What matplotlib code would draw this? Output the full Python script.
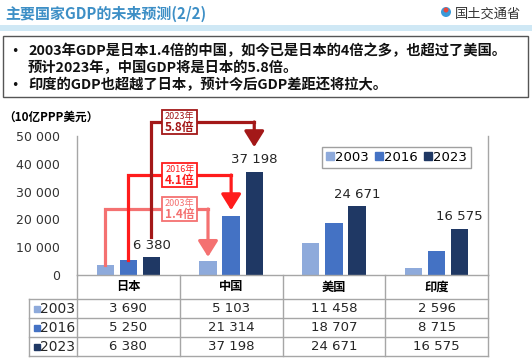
import numpy as np
import matplotlib
matplotlib.use('Agg')
import matplotlib.pyplot as plt
from matplotlib.patches import Rectangle, Ellipse
from matplotlib.lines import Line2D

plt.rcParams['font.family'] = ['DejaVu Sans', 'Noto Sans CJK SC']
CJK = ['Noto Sans CJK SC', 'DejaVu Sans']

title = '主要国家GDP的未来预测(2/2)'
ministry = '国土交通省'
notes = ['2003年GDP是日本1.4倍的中国，如今已是日本的4倍之多，也超过了美国。',
         '预计2023年，中国GDP将是日本的5.8倍。',
         '印度的GDP也超越了日本，预计今后GDP差距还将拉大。']
unit = '（10亿PPP美元）'
countries = ['日本', '中国', '美国', '印度']
years = ['2003', '2016', '2023']
gdp_2003 = [3690, 5103, 11458, 2596]
gdp_2016 = [5250, 21314, 18707, 8715]
gdp_2023 = [6380, 37198, 24671, 16575]
series = [gdp_2003, gdp_2016, gdp_2023]

colors = ['#8eaadb', '#4472c4', '#1f3864']
arrow_colors = ['#f47171', '#ff1c1c', '#a31818']
grid_col = '#a6a6a6'

W, H = 532, 360


def fx(px):
    return px / W


def fy(py):
    return 1 - py / H


def fmt(v):
    return f'{v:,}'.replace(',', ' ')


fig = plt.figure(figsize=(W / 100, H / 100), dpi=100)

# header
fig.text(fx(5), fy(14), title, family=CJK, fontsize=10.8, fontweight='bold',
         color='#3d8fc6', va='center')
fig.patches.append(Rectangle((0, fy(31)), 1, fy(25) - fy(31), transform=fig.transFigure,
                             color='#cfe8f5', lw=0))
fig.patches.append(Ellipse((fx(446), fy(12)), 10 / W, 10 / H, transform=fig.transFigure,
                           color='#3a9ad9', lw=0))
fig.patches.append(Ellipse((fx(446), fy(10)), 5 / W, 5 / H, transform=fig.transFigure,
                           color='#e8483c', lw=0))
fig.text(fx(455), fy(14), ministry, family=CJK, fontsize=9.5, color='#333333', va='center')

# note box
fig.patches.append(Rectangle((fx(3), fy(97)), fx(528) - fx(3), fy(36) - fy(97),
                             transform=fig.transFigure, fill=False, edgecolor='#555555', lw=1))
for txt, py, bullet in zip(notes, [51, 68, 85], [True, False, True]):
    if bullet:
        fig.text(fx(11), fy(py), '•', fontsize=9, va='center', color='#111111')
    fig.text(fx(28), fy(py), txt, family=CJK, fontsize=10.3, fontweight='bold',
             va='center', color='#111111')

fig.text(fx(3), fy(117), unit, family=CJK, fontsize=8.4, fontweight='bold', va='center')

# chart
ax = fig.add_axes([fx(77), fy(275), fx(488) - fx(77), fy(136) - fy(275)])
x = np.arange(len(countries))
offsets = [-0.225, 0, 0.225]
for vals, off, c in zip(series, offsets, colors):
    ax.bar(x + off, vals, width=0.17, color=c, zorder=2)

for i, v in enumerate(gdp_2023):
    ax.annotate(fmt(v), (x[i] + offsets[2], v), xytext=(0, 4), textcoords='offset points',
                ha='center', va='bottom', fontsize=9.5, color='#262626')

ax.set_xlim(-0.5, 3.5)
ax.set_ylim(0, 50000)
ticks = list(range(0, 50001, 10000))
ax.set_yticks(ticks)
ax.set_yticklabels([fmt(t) for t in ticks])
ax.set_xticks([])
ax.tick_params(axis='y', length=0, pad=12, labelsize=9, labelcolor='#333333')
ax.spines['top'].set_visible(False)
for s in ['left', 'right', 'bottom']:
    ax.spines[s].set_color(grid_col)
    ax.spines[s].set_linewidth(1)

handles = [Line2D([], [], marker='s', ls='', color=c, markersize=5.5) for c in colors]
ax.legend(handles, years, ncol=3, loc='upper right', bbox_to_anchor=(0.975, 0.97),
          fancybox=False, edgecolor='#a0a0a0', fontsize=9.5, handletextpad=0.05,
          columnspacing=0.4, borderpad=0.3, handlelength=0.7, framealpha=1)

# comparison arrows Japan -> China
levels = [23740, 35970, 55040]
start_gap = [0, 0, 7300]
end_gap = [1400, 2000, 8800]
for k in range(3):
    jp = series[k][0]
    cn = series[k][1]
    c = arrow_colors[k]
    x0 = x[0] + offsets[k]
    x1 = x[1] + offsets[k]
    lv = levels[k]
    ax.plot([x0, x0, x1], [jp + start_gap[k], lv, lv], color=c, lw=2.3, clip_on=False,
            solid_joinstyle='miter', solid_capstyle='projecting', zorder=3)
    ax.annotate('', xy=(x1, cn + end_gap[k]), xytext=(x1, lv),
                arrowprops=dict(arrowstyle='-|>,head_length=0.8,head_width=0.5', color=c,
                                lw=2.3, shrinkA=0, shrinkB=0, mutation_scale=12),
                annotation_clip=False, zorder=3)
    ax.add_patch(Rectangle((0.5 - 0.17, lv - 4150), 0.34, 8300, facecolor='white',
                           edgecolor=c, lw=1.3, clip_on=False, zorder=5))
    ax.text(0.5, lv + 2100, years[k] + '年', family=CJK, fontsize=6.5, color=c,
            ha='center', va='center', zorder=6, clip_on=False)
    ax.text(0.5, lv - 2000, f'{cn / jp:.1f}倍', family=CJK, fontsize=8.5, fontweight='bold',
            color=c, ha='center', va='center', zorder=6, clip_on=False)

# data table
left = -0.5 - 48 / 102.75
tax = fig.add_axes([fx(29), fy(356), fx(488) - fx(29), fy(275) - fy(356)])
tax.set_xlim(left, 3.5)
tax.set_ylim(356, 275)
tax.axis('off')
for yl in [299, 318, 337, 356]:
    tax.plot([left, 3.5], [yl, yl], color=grid_col, lw=1, clip_on=False)
for xl in [-0.5, 0.5, 1.5, 2.5, 3.5]:
    tax.plot([xl, xl], [275, 356], color=grid_col, lw=1, clip_on=False)
tax.plot([left, left], [299, 356], color=grid_col, lw=1, clip_on=False)

for i, name in enumerate(countries):
    tax.text(x[i], 287, name, family=CJK, fontsize=8.8, fontweight='bold',
             ha='center', va='center')
for r, (yr, vals, c) in enumerate(zip(years, series, colors)):
    yy = 309 + r * 19
    tax.plot([left + 8 / 102.75], [yy], marker='s', color=c, markersize=5, clip_on=False)
    tax.text(-0.5 - 2 / 102.75, yy, yr, fontsize=10, ha='right', va='center', color='#262626')
    for i, v in enumerate(vals):
        tax.text(x[i], yy, fmt(v), fontsize=9.5, ha='center', va='center', color='#262626')

fig.savefig('out.png', dpi=100)
